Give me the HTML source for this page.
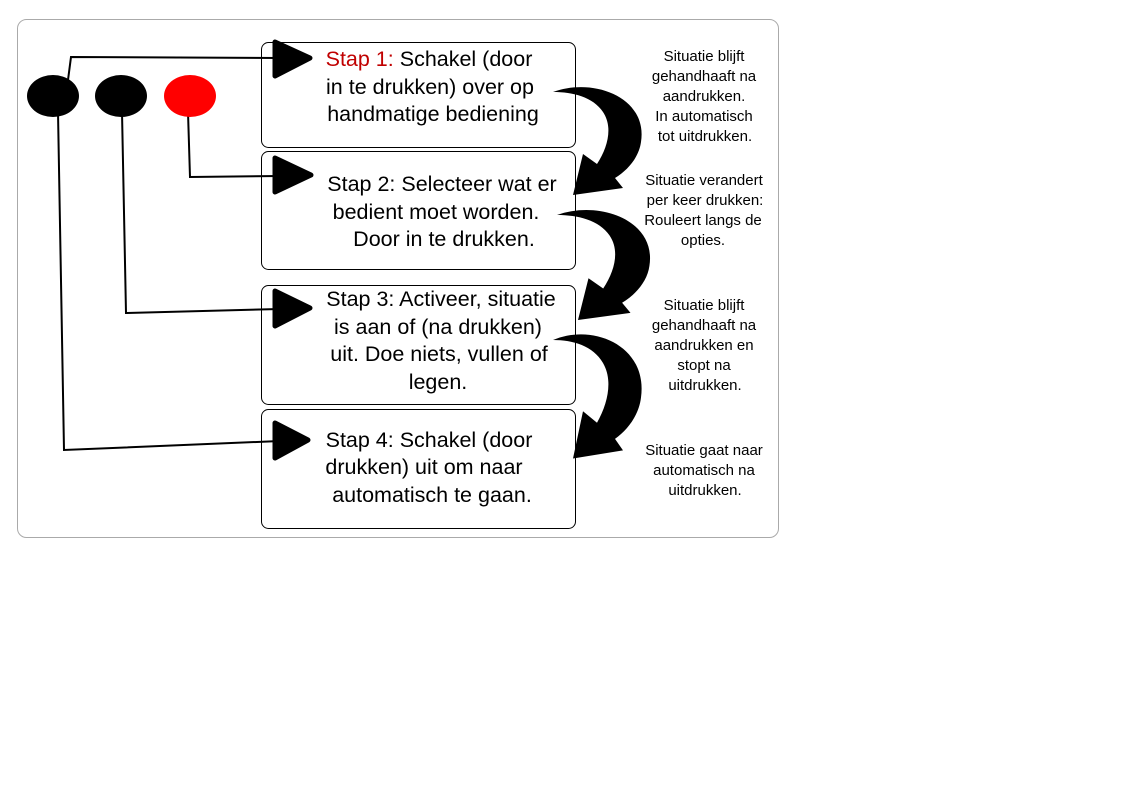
<!DOCTYPE html>
<html><head><meta charset="utf-8"><style>
html,body{margin:0;padding:0;background:#fff;}
svg{display:block;}
text{font-family:"Liberation Sans",Arial,sans-serif;}
.b{font-size:21.5px;fill:#000;text-anchor:middle;}
.s{font-size:15px;fill:#000;text-anchor:middle;}
</style></head><body>
<svg width="1123" height="794" viewBox="0 0 1123 794" xmlns="http://www.w3.org/2000/svg">
<rect x="17.5" y="19.5" width="761" height="518" rx="9" fill="#fff" stroke="#aaa" stroke-width="1"/>
<g fill="#fff" stroke="#000" stroke-width="1">
<rect x="261.5" y="42.5" width="314" height="105" rx="7"/>
<rect x="261.5" y="151.5" width="314" height="118" rx="7"/>
<rect x="261.5" y="285.5" width="314" height="119" rx="7"/>
<rect x="261.5" y="409.5" width="314" height="119" rx="7"/>
</g>
<g fill="none" stroke="#000" stroke-width="2">
<polyline points="68,80 71,57 280,58"/>
<polyline points="188,112 190,177 280,176"/>
<polyline points="122,112 126,313 280,309"/>
<polyline points="58,112 64,450 280,441"/>
</g>
<ellipse cx="53" cy="96" rx="26" ry="21" fill="#000"/>
<ellipse cx="121" cy="96" rx="26" ry="21" fill="#000"/>
<ellipse cx="190" cy="96" rx="26" ry="21" fill="#ff0000"/>
<g fill="#000" stroke="#000" stroke-width="5" stroke-linejoin="round">
<polygon points="275,42 310,58 275,76"/>
<polygon points="275,158 311,175 275,192"/>
<polygon points="275,291 310,308 275,326"/>
<polygon points="275,423 308,440 275,458"/>
</g>
<g fill="#000">
<path transform="translate(553,92)" d="M0,0 C40,-15 95,5 88,50 C86,65 75,78 62,86 L70,96 L20,103 L30,62 L44,72 C55,55 60,35 50,20 C40,5 20,0 0,0 Z"/>
<path transform="translate(557,215) scale(1.05,1.02)" d="M0,0 C40,-15 95,5 88,50 C86,65 75,78 62,86 L70,96 L20,103 L30,62 L44,72 C55,55 60,35 50,20 C40,5 20,0 0,0 Z"/>
<path transform="translate(553,340) scale(1,1.15)" d="M0,0 C40,-15 95,5 88,50 C86,65 75,78 62,86 L70,96 L20,103 L30,62 L44,72 C55,55 60,35 50,20 C40,5 20,0 0,0 Z"/>
</g>
<text class="b" x="429" y="66"><tspan fill="#c00000">Stap 1:</tspan> Schakel (door</text>
<text class="b" x="430" y="94">in te drukken) over op</text>
<text class="b" x="433" y="121">handmatige bediening</text>
<text class="b" x="442" y="191">Stap 2: Selecteer wat er</text>
<text class="b" x="436" y="219">bedient moet worden.</text>
<text class="b" x="444" y="246">Door in te drukken.</text>
<text class="b" x="441" y="306">Stap 3: Activeer, situatie</text>
<text class="b" x="438" y="334">is aan of (na drukken)</text>
<text class="b" x="439" y="361">uit. Doe niets, vullen of</text>
<text class="b" x="438" y="389">legen.</text>
<text class="b" x="429" y="447">Stap 4: Schakel (door</text>
<text class="b" x="424" y="474">drukken) uit om naar</text>
<text class="b" x="432" y="502">automatisch te gaan.</text>
<text class="s" x="704" y="61">Situatie blijft</text>
<text class="s" x="704" y="81">gehandhaaft na</text>
<text class="s" x="704" y="101">aandrukken.</text>
<text class="s" x="704" y="121">In automatisch</text>
<text class="s" x="705" y="141">tot uitdrukken.</text>
<text class="s" x="704" y="185">Situatie verandert</text>
<text class="s" x="705" y="205">per keer drukken:</text>
<text class="s" x="703" y="225">Rouleert langs de</text>
<text class="s" x="703" y="245">opties.</text>
<text class="s" x="704" y="310">Situatie blijft</text>
<text class="s" x="704" y="330">gehandhaaft na</text>
<text class="s" x="704" y="350">aandrukken en</text>
<text class="s" x="704" y="370">stopt na</text>
<text class="s" x="705" y="390">uitdrukken.</text>
<text class="s" x="704" y="455">Situatie gaat naar</text>
<text class="s" x="704" y="475">automatisch na</text>
<text class="s" x="705" y="495">uitdrukken.</text>
</svg>
</body></html>
